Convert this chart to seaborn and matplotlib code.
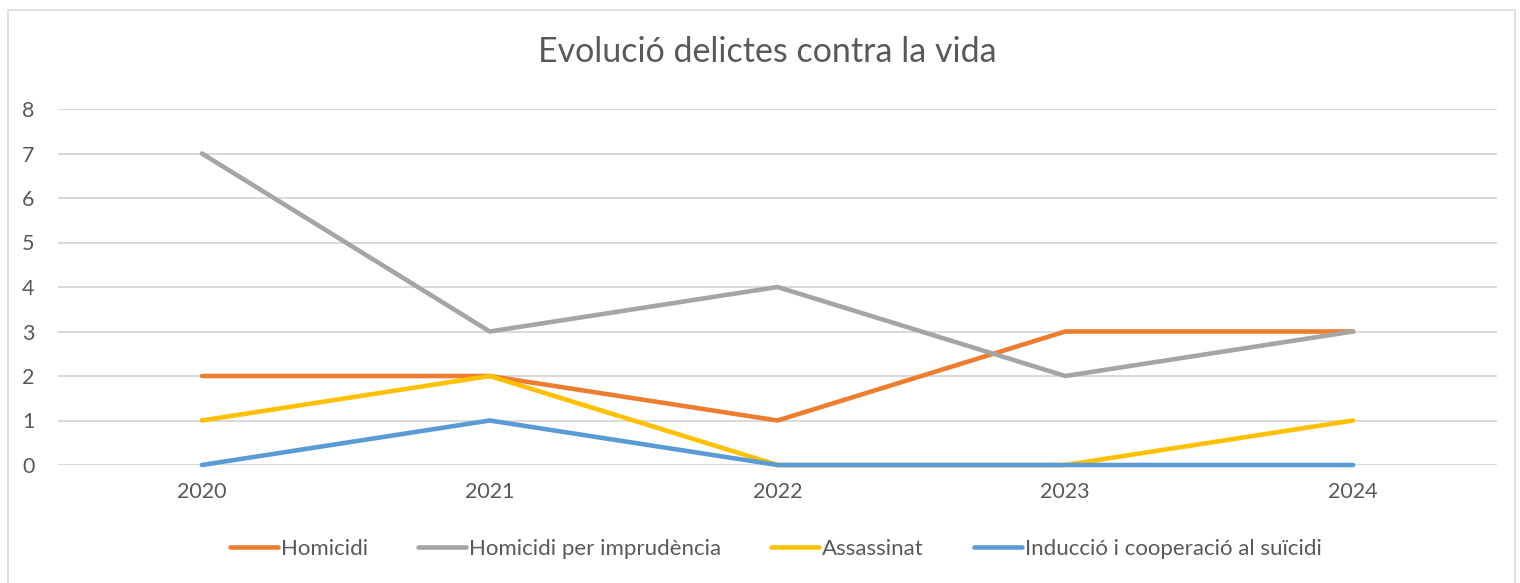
import numpy as np
import pandas as pd
import matplotlib
matplotlib.use("Agg")
import matplotlib.pyplot as plt
import seaborn as sns
from matplotlib.patches import Rectangle

# data
years = [2020, 2021, 2022, 2023, 2024]
homicidi = [2, 2, 1, 3, 3]
homicidi_imprudencia = [7, 3, 4, 2, 3]
assassinat = [1, 2, 0, 0, 1]
induccio = [0, 1, 0, 0, 0]

series_names = ["Homicidi", "Homicidi per imprudència", "Assassinat",
                "Inducció i cooperació al suïcidi"]
series_values = [homicidi, homicidi_imprudencia, assassinat, induccio]
colors = ["#ED7D31", "#A5A5A5", "#FFC000", "#5B9BD5"]

df = pd.DataFrame({
    "year": years * len(series_names),
    "value": sum(series_values, []),
    "serie": sum([[n] * len(years) for n in series_names], []),
})

sns.set_theme(style="white")
plt.rcParams["font.family"] = ["Lato", "DejaVu Sans"]
text_col = "#595959"

fig = plt.figure(figsize=(15.2, 5.83), dpi=100)
ax = fig.add_axes([58 / 1520, 1 - 465 / 583, (1497 - 58) / 1520, (465 - 109) / 583])

sns.lineplot(data=df, x="year", y="value", hue="serie", hue_order=series_names,
             palette=colors, linewidth=3.3, ax=ax, legend=True)
for ln in ax.get_lines():
    ln.set_solid_capstyle("round")
    ln.set_zorder(3)
    ln.set_clip_on(False)

ax.set_xlim(2019.5, 2024.5)
ax.set_ylim(0, 8)
ax.set_xticks(years)
ax.set_yticks(range(0, 9))
ax.yaxis.grid(True, color="#D9D9D9", linewidth=1.4)
ax.set_axisbelow(True)
for s in ax.spines.values():
    s.set_visible(False)
ax.tick_params(axis="x", length=0, pad=12, labelsize=15.5, labelcolor=text_col)
ax.tick_params(axis="y", length=0, pad=17, labelsize=15.5, labelcolor=text_col)
ax.set_xlabel("")
ax.set_ylabel("")

handles, labels = ax.get_legend_handles_labels()
ax.get_legend().remove()
leg = fig.legend(handles, labels, loc="center", bbox_to_anchor=(776 / 1520, 1 - 549 / 583),
                 ncol=4, frameon=False, fontsize=16, handlelength=2.15,
                 handletextpad=0.15, columnspacing=2.25)
for t in leg.get_texts():
    t.set_color(text_col)
for h in leg.legend_handles:
    h.set_linewidth(3.3)
    h.set_solid_capstyle("round")

fig.text(767 / 1520, 1 - 52 / 583, "Evolució delictes contra la vida",
         ha="center", va="center", fontsize=24.5, color=text_col)

fig.patches.append(Rectangle((8 / 1520, -0.01), 1507 / 1520, 1 - 10 / 583 + 0.01,
                             transform=fig.transFigure, fill=False,
                             edgecolor="#D9D9D9", linewidth=1.2))

fig.savefig("out.png", dpi=100)
